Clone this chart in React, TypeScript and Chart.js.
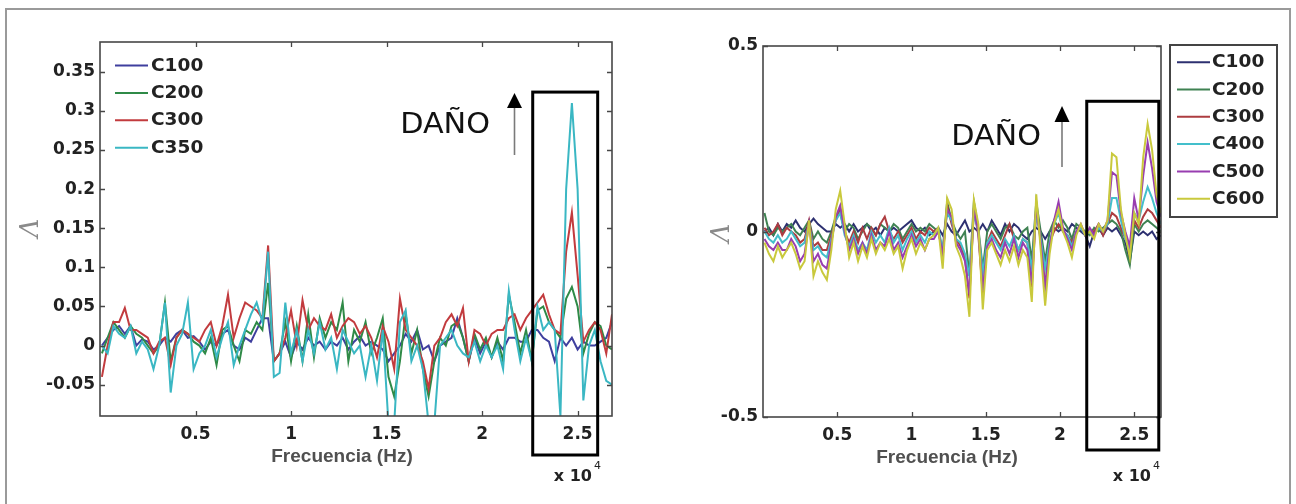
import React, { useEffect, useRef } from "react";
import { Chart, registerables } from "chart.js";
Chart.register(...registerables);

// Frequency grid (x 10^4 Hz)
const FREQ = [0.01,0.04,0.07,0.10,0.13,0.16,0.19,0.22,0.25,0.28,0.31,0.34,0.37,0.40,0.43,0.46,0.49,0.52,0.55,0.58,0.61,0.64,0.67,0.70,0.73,0.76,0.79,0.82,0.85,0.88,0.91,0.94,0.97,1.00,1.03,1.06,1.09,1.12,1.15,1.18,1.21,1.24,1.27,1.30,1.33,1.36,1.39,1.42,1.45,1.48,1.51,1.54,1.57,1.60,1.63,1.66,1.69,1.72,1.75,1.78,1.81,1.84,1.87,1.90,1.93,1.96,1.99,2.02,2.05,2.08,2.11,2.14,2.17,2.20,2.23,2.26,2.29,2.32,2.35,2.38,2.41,2.44,2.47,2.50,2.53,2.56,2.59,2.62,2.65,2.68];

// Left panel series
const L_C100 = [0.0,0.01,0.02,0.025,0.015,0.025,0.0,0.008,0.005,-0.005, 0.0,0.01,0.005,0.015,0.02,0.01,0.012,0.005,-0.005,0.005, 0.0,0.015,0.02,0.0,-0.005,0.01,0.005,0.02,0.035,0.035, -0.02,-0.01,0.005,-0.015,0.005,-0.005,0.01,0.0,0.005,-0.005, 0.005,0.0,0.01,-0.005,0.005,0.012,0.0,0.005,0.0,-0.005, -0.02,-0.01,0.0,0.015,0.005,0.02,-0.005,0.0,-0.02,0.0, 0.005,0.01,0.035,0.01,-0.02,0.01,-0.01,0.005,-0.015,0.005, -0.005,0.01,0.01,0.005,0.005,0.02,0.02,0.01,0.005,-0.02, 0.01,0.0,0.01,-0.005,0.005,0.0,0.0,0.005,0.01,0.03];
const L_C200 = [-0.01,0.01,0.03,0.02,0.01,0.025,0.015,0.01,0.0,-0.01, 0.0,0.055,-0.02,0.01,0.02,0.015,0.005,0.0,-0.01,0.01, -0.025,0.02,0.025,0.0,-0.02,0.02,0.015,0.03,0.02,0.08, -0.02,-0.01,0.03,-0.02,0.025,-0.02,0.04,-0.015,0.035,0.01, 0.03,0.02,0.055,-0.02,0.02,0.005,0.03,-0.01,0.01,0.035, -0.04,-0.065,-0.02,0.04,-0.01,0.02,-0.03,-0.065,-0.02,0.01, 0.0,0.025,0.03,0.01,-0.02,0.015,-0.005,0.01,-0.015,0.01, -0.02,0.065,0.03,-0.01,0.02,-0.02,0.045,0.05,0.03,0.02, 0.01,0.06,0.075,0.05,-0.01,0.015,0.03,0.025,0.0,-0.005];
const L_C300 = [-0.04,0.0,0.03,0.03,0.048,0.02,0.02,0.015,0.01,-0.01, 0.005,0.01,-0.025,0.01,0.02,0.015,0.01,0.005,0.02,0.03, 0.0,0.025,0.065,0.01,0.035,0.055,0.05,0.045,0.035,0.128, -0.02,-0.01,0.01,0.045,0.0,0.058,0.02,0.035,0.025,0.02, 0.04,0.01,0.025,0.035,0.03,0.015,0.025,0.01,-0.015,0.025, 0.005,-0.03,0.06,0.02,0.01,0.0,-0.02,-0.055,0.0,0.01, 0.03,0.04,0.025,0.048,-0.02,0.02,0.015,0.0,0.015,0.02, 0.02,0.035,0.04,0.02,0.035,0.045,0.055,0.065,0.04,0.02, 0.015,0.12,0.17,0.09,0.005,0.02,0.03,0.02,-0.01,0.04];
const L_C350 = [0.0,-0.01,0.025,0.015,0.01,0.025,-0.01,0.005,-0.005,-0.03, 0.0,0.055,-0.06,0.0,0.015,0.055,-0.03,-0.01,0.0,0.02, -0.015,0.01,0.03,-0.025,0.0,0.02,0.04,0.055,0.03,0.12, -0.04,-0.035,0.055,-0.01,0.02,-0.02,0.02,-0.01,0.03,-0.005, 0.01,-0.03,0.02,0.005,-0.01,0.0,-0.04,0.0,-0.045,0.02, -0.1,-0.1,0.03,0.045,-0.02,0.0,-0.03,-0.1,-0.1,0.0, 0.01,0.02,0.0,-0.01,-0.015,0.005,-0.02,0.0,-0.015,0.0, -0.03,0.07,0.02,-0.02,0.01,-0.02,0.05,0.02,0.03,0.02, -0.09,0.2,0.31,0.2,-0.07,0.0,0.02,-0.02,-0.045,-0.05];

// Right panel series
const R_C100 = [0.0,0.01,-0.01,0.02,0.0,0.02,0.01,0.03,0.01,0.0, 0.02,0.035,0.02,0.01,0.0,0.0,0.02,0.01,0.02,0.0, 0.02,0.0,0.01,0.02,0.0,0.01,-0.01,0.01,0.0,0.01, 0.0,0.01,0.02,0.03,0.01,0.0,0.01,-0.01,0.0,0.01, -0.01,0.02,0.0,-0.01,0.01,0.03,0.0,0.01,0.0,0.02, 0.0,0.03,0.01,-0.01,0.02,0.0,0.02,0.01,-0.01,-0.02, 0.0,0.01,0.0,-0.02,0.0,0.01,0.0,0.01,0.0,0.02, 0.01,0.0,-0.01,-0.04,0.0,0.01,-0.01,0.01,0.0,0.01, -0.01,-0.03,-0.08,0.0,-0.01,0.0,-0.01,0.0,-0.02,-0.01];
const R_C200 = [0.05,0.0,-0.01,0.01,0.0,0.01,0.02,0.0,-0.01,0.01, 0.03,-0.02,0.0,-0.02,-0.03,0.0,0.04,0.05,0.0,0.02, 0.01,-0.02,0.0,0.02,0.01,-0.01,0.02,0.01,0.0,0.02, 0.01,-0.02,0.0,0.02,0.0,0.01,0.0,0.02,0.01,0.0, -0.05,0.08,0.03,0.0,-0.02,0.0,-0.12,0.08,0.01,-0.1, 0.0,0.02,0.0,-0.02,0.01,0.02,-0.01,-0.02,0.0,0.01, -0.08,0.08,0.0,-0.08,0.0,0.03,0.01,0.03,0.01,-0.02, 0.02,0.01,0.0,-0.01,0.01,0.0,0.01,0.02,0.03,0.02, 0.0,-0.05,-0.09,0.02,0.0,0.02,0.03,0.02,0.01,0.0];
const R_C300 = [0.01,-0.01,0.0,0.02,-0.01,0.01,0.0,-0.01,-0.03,-0.02, 0.03,-0.04,-0.03,-0.05,-0.05,-0.01,0.03,0.06,0.0,-0.03, 0.0,-0.03,0.01,-0.02,0.01,-0.01,0.02,0.04,0.0,-0.02, 0.0,-0.03,-0.01,0.01,-0.02,0.0,-0.01,0.01,0.0,0.01, -0.07,0.07,0.02,-0.02,-0.04,-0.07,-0.18,0.06,-0.01,-0.17, -0.03,0.0,-0.02,-0.04,-0.01,0.02,-0.02,-0.05,-0.02,-0.03, -0.15,0.06,-0.02,-0.15,-0.03,0.0,0.02,0.0,-0.01,-0.03, 0.0,0.01,-0.01,0.0,0.0,0.02,-0.01,0.02,0.05,0.04, 0.01,-0.02,-0.04,0.03,0.01,0.04,0.06,0.05,0.03,0.01];
const R_C400 = [0.0,-0.02,-0.03,-0.01,-0.03,-0.02,0.0,-0.02,-0.04,-0.03, 0.02,-0.05,-0.04,-0.06,-0.07,-0.02,0.03,0.05,-0.01,-0.04, -0.01,-0.05,-0.03,-0.05,0.0,-0.03,-0.01,-0.03,0.01,-0.03, -0.01,-0.05,-0.02,0.0,-0.03,-0.01,-0.03,0.0,-0.01,0.01, -0.05,0.05,0.03,-0.02,-0.03,-0.06,-0.12,0.05,0.0,-0.11, -0.03,-0.01,-0.03,-0.05,-0.02,-0.04,-0.01,-0.05,-0.02,-0.03, -0.1,0.05,-0.02,-0.1,-0.03,0.02,0.05,0.0,-0.01,-0.04, 0.0,0.01,-0.01,0.0,-0.01,0.01,0.0,0.02,0.09,0.09, 0.03,-0.02,-0.05,0.05,0.03,0.08,0.12,0.09,0.05,0.02];
const R_C500 = [-0.02,-0.04,-0.05,-0.03,-0.05,-0.05,-0.02,-0.04,-0.08,-0.06, 0.02,-0.08,-0.06,-0.09,-0.1,-0.03,0.04,0.07,0.0,-0.05, -0.02,-0.06,-0.03,-0.06,-0.01,-0.05,-0.03,-0.04,0.0,-0.05, -0.03,-0.07,-0.04,-0.01,-0.04,-0.02,-0.05,-0.02,-0.02,0.0, -0.06,0.06,0.04,-0.03,-0.05,-0.08,-0.17,0.06,0.0,-0.16, -0.04,-0.02,-0.05,-0.07,-0.03,-0.06,-0.02,-0.07,-0.03,-0.05, -0.14,0.07,-0.03,-0.15,-0.04,0.03,0.08,0.01,-0.02,-0.05, 0.0,0.02,-0.01,0.01,-0.01,0.02,0.0,0.03,0.16,0.15, 0.05,0.0,-0.04,0.09,0.03,0.15,0.24,0.17,0.08,0.04];
const R_C600 = [-0.03,-0.06,-0.08,-0.04,-0.07,-0.05,-0.03,-0.06,-0.1,-0.08, 0.03,-0.12,-0.08,-0.11,-0.13,-0.05,0.06,0.11,0.02,-0.07, -0.03,-0.08,-0.04,-0.07,-0.02,-0.06,-0.03,-0.05,-0.02,-0.06, -0.04,-0.1,-0.05,-0.02,-0.06,-0.03,-0.05,-0.02,-0.01,0.01, -0.1,0.09,0.06,-0.04,-0.07,-0.12,-0.23,0.085,0.02,-0.21, -0.05,-0.03,-0.06,-0.09,-0.05,-0.08,-0.04,-0.09,-0.05,-0.07, -0.19,0.1,-0.05,-0.2,-0.06,0.02,0.06,0.0,-0.03,-0.07, -0.01,0.02,-0.01,0.0,-0.02,0.02,0.0,0.03,0.21,0.2, 0.06,-0.01,-0.07,0.05,0.02,0.2,0.29,0.22,0.1,0.05];

const L_LABELS = ["C100", "C200", "C300", "C350"];
const R_LABELS = ["C100", "C200", "C300", "C400", "C500", "C600"];
const L_COLORS = ["#3f3f9e", "#2f8a47", "#c23b3e", "#3ab7c3"];
const R_COLORS = ["#2d3070", "#3f8252", "#ad3c40", "#43bfcb", "#983db0", "#c9c93c"];

const X_TICKS = [0.5, 1, 1.5, 2, 2.5];
const X_TICK_LABELS = ["0.5", "1", "1.5", "2", "2.5"];
const L_Y_TICKS = [-0.05, 0, 0.05, 0.1, 0.15, 0.2, 0.25, 0.3, 0.35];
const L_Y_TICK_LABELS = ["-0.05", "0", "0.05", "0.1", "0.15", "0.2", "0.25", "0.3", "0.35"];
const R_Y_TICKS = [-0.5, 0, 0.5];
const R_Y_TICK_LABELS = ["-0.5", "0", "0.5"];

const X_TITLE = "Frecuencia (Hz)";
const DAMAGE = "DAÑO";

function txt(ctx: any, s: string, x: number, y: number, font: string, color: string, align: string, sx = 1) {
  ctx.save();
  ctx.translate(x, y);
  ctx.scale(sx, 1);
  ctx.font = font;
  ctx.fillStyle = color;
  ctx.textAlign = align;
  ctx.textBaseline = "middle";
  ctx.fillText(s, 0, 0);
  ctx.restore();
}

function makeDecor(o: any) {
  return {
    id: "decor",
    afterDraw(chart: any) {
      const { ctx, chartArea: a } = chart;
      const xs = chart.scales.x, ys = chart.scales.y;
      ctx.save();
      // plot frame
      ctx.strokeStyle = "#474747";
      ctx.lineWidth = 1.6;
      ctx.strokeRect(a.left, a.top, a.right - a.left, a.bottom - a.top);
      // inward ticks on all sides
      ctx.beginPath();
      for (const v of o.xTicks) {
        const p = Math.round(xs.getPixelForValue(v)) + 0.5;
        ctx.moveTo(p, a.bottom); ctx.lineTo(p, a.bottom - 5);
        ctx.moveTo(p, a.top); ctx.lineTo(p, a.top + 5);
      }
      for (const v of o.yTicks) {
        const p = Math.round(ys.getPixelForValue(v)) + 0.5;
        ctx.moveTo(a.left, p); ctx.lineTo(a.left + 5, p);
        ctx.moveTo(a.right, p); ctx.lineTo(a.right - 5, p);
      }
      ctx.lineWidth = 1.3;
      ctx.stroke();

      // damage box
      const bx1 = xs.getPixelForValue(o.box[0]);
      const bx2 = xs.getPixelForValue(o.box[1]);
      const by = ys.getPixelForValue(o.box[2]);
      ctx.strokeStyle = "#000";
      ctx.lineWidth = 3;
      ctx.strokeRect(bx1, by, bx2 - bx1, o.boxBottom - by);

      // arrow
      ctx.strokeStyle = "#7a7a7a";
      ctx.lineWidth = 1.6;
      ctx.beginPath();
      ctx.moveTo(o.arrow.x, o.arrow.y1);
      ctx.lineTo(o.arrow.x, o.arrow.base);
      ctx.stroke();
      ctx.fillStyle = "#000";
      ctx.beginPath();
      ctx.moveTo(o.arrow.x, o.arrow.tip);
      ctx.lineTo(o.arrow.x - 7.5, o.arrow.base);
      ctx.lineTo(o.arrow.x + 7.5, o.arrow.base);
      ctx.closePath();
      ctx.fill();

      // DAÑO text
      txt(ctx, DAMAGE, o.dmg.x, o.dmg.y, '28px "DejaVu Sans"', "#111", "right", 1.08);

      // legend
      const lg = o.legend;
      if (lg.box) {
        ctx.strokeStyle = "#444";
        ctx.lineWidth = 2;
        ctx.strokeRect(lg.box[0], lg.box[1], lg.box[2], lg.box[3]);
      }
      o.labels.forEach((lab: string, i: number) => {
        const y = lg.y0 + i * lg.dy;
        ctx.strokeStyle = o.colors[i];
        ctx.lineWidth = 2;
        ctx.beginPath();
        ctx.moveTo(lg.x1, y + 0.5);
        ctx.lineTo(lg.x2, y + 0.5);
        ctx.stroke();
        txt(ctx, lab, lg.tx, y + 1, 'bold 18px "DejaVu Sans"', "#222", "left", 1.03);
      });

      // axis titles
      txt(ctx, X_TITLE, o.xlab.x, o.xlab.y, 'bold 19px "Liberation Sans"', "#505050", "center", 1.0);
      ctx.save();
      ctx.translate(o.ylab.x, o.ylab.y);
      ctx.rotate(-Math.PI / 2);
      ctx.font = 'italic 26px "DejaVu Serif"';
      ctx.fillStyle = "#8a8a8a";
      ctx.textAlign = "center";
      ctx.textBaseline = "middle";
      ctx.fillText("Λ", 0, 0);
      ctx.restore();

      // exponent
      txt(ctx, "x 10", o.exp.x, o.exp.y, 'bold 16px "DejaVu Sans"', "#222", "right", 1.0);
      txt(ctx, "4", o.exp.x + 2, o.exp.y - 11, '11px "DejaVu Sans"', "#222", "left", 1.0);
      ctx.restore();
    },
  };
}

function makeConfig(series: number[][], labels: string[], colors: string[], yMin: number, yMax: number, yTicks: number[], yTickLabels: string[], pad: any, decor: any): any {
  return {
    type: "line",
    data: {
      datasets: series.map((s, i) => ({
        label: labels[i],
        data: FREQ.map((f, j) => ({ x: f, y: s[j] })),
        borderColor: colors[i],
        borderWidth: 2,
        pointRadius: 0,
        tension: 0,
        fill: false,
        clip: 0,
        order: series.length - i,
      })),
    },
    options: {
      responsive: false,
      maintainAspectRatio: false,
      animation: false,
      devicePixelRatio: 1,
      layout: { padding: pad },
      plugins: { legend: { display: false }, tooltip: { enabled: false } },
      events: [],
      scales: {
        x: {
          type: "linear",
          min: 0,
          max: 2.68,
          grid: { display: false, drawTicks: false },
          border: { display: false },
          afterBuildTicks: (s: any) => { s.ticks = X_TICKS.map((v) => ({ value: v })); },
          afterFit: (s: any) => { s.height = 40; },
          ticks: {
            autoSkip: false,
            maxRotation: 0,
            padding: 8,
            color: "#222",
            font: { family: "DejaVu Sans", size: 17, weight: "bold" },
            callback: (_v: any, i: number) => X_TICK_LABELS[i],
          },
        },
        y: {
          type: "linear",
          min: yMin,
          max: yMax,
          grid: { display: false, drawTicks: false },
          border: { display: false },
          afterBuildTicks: (s: any) => { s.ticks = yTicks.map((v) => ({ value: v })); },
          afterFit: (s: any) => { s.width = 60; },
          ticks: {
            autoSkip: false,
            padding: 5,
            color: "#222",
            font: { family: "DejaVu Sans", size: 17, weight: "bold" },
            callback: (_v: any, i: number) => yTickLabels[i],
          },
        },
      },
    },
    plugins: [makeDecor(decor)],
  };
}

function ChartCanvas({ build, left, width }: { build: () => any; left: number; width: number }) {
  const ref = useRef<HTMLCanvasElement>(null);
  useEffect(() => {
    const c = new Chart(ref.current as HTMLCanvasElement, build());
    return () => c.destroy();
  }, []);
  return (
    <canvas
      ref={ref}
      width={width}
      height={504}
      style={{ position: "absolute", left, top: 0, width, height: 504 }}
    />
  );
}

export default function App() {
  const buildLeft = () =>
    makeConfig(
      [L_C100, L_C200, L_C300, L_C350],
      L_LABELS,
      L_COLORS,
      -0.09,
      0.388,
      L_Y_TICKS,
      L_Y_TICK_LABELS,
      { left: 40, top: 42, right: 38, bottom: 48 },
      {
        xTicks: X_TICKS,
        yTicks: L_Y_TICKS,
        box: [2.265, 2.605, 0.324],
        boxBottom: 455,
        arrow: { x: 514.5, y1: 155, base: 108, tip: 93 },
        dmg: { x: 490, y: 126 },
        labels: L_LABELS,
        colors: L_COLORS,
        legend: { x1: 115, x2: 148, tx: 151, y0: 65, dy: 27.4, box: null },
        xlab: { x: 342, y: 457 },
        ylab: { x: 31, y: 228 },
        exp: { x: 592, y: 477 },
      }
    );
  const buildRight = () =>
    makeConfig(
      [R_C100, R_C200, R_C300, R_C400, R_C500, R_C600],
      R_LABELS,
      R_COLORS,
      -0.5,
      0.5,
      R_Y_TICKS,
      R_Y_TICK_LABELS,
      { left: 53, top: 46, right: 135, bottom: 47 },
      {
        xTicks: X_TICKS,
        yTicks: R_Y_TICKS,
        box: [2.18, 2.665, 0.351],
        boxBottom: 450,
        arrow: { x: 412, y1: 167, base: 122, tip: 106 },
        dmg: { x: 391, y: 138 },
        labels: R_LABELS,
        colors: R_COLORS,
        legend: { x1: 527, x2: 560, tx: 562, y0: 61.7, dy: 27.3, box: [520, 45, 107, 172] },
        xlab: { x: 297, y: 458 },
        ylab: { x: 72, y: 233 },
        exp: { x: 501, y: 477 },
      }
    );
  return (
    <div style={{ position: "absolute", left: 0, top: 0, width: 1296, height: 504, overflow: "hidden", background: "#fff" }}>
      <div
        style={{
          position: "absolute",
          left: 5,
          top: 8,
          width: 1286,
          height: 520,
          boxSizing: "border-box",
          border: "2px solid #9a9a9a",
        }}
      />
      <ChartCanvas build={buildLeft} left={0} width={650} />
      <ChartCanvas build={buildRight} left={650} width={646} />
    </div>
  );
}
